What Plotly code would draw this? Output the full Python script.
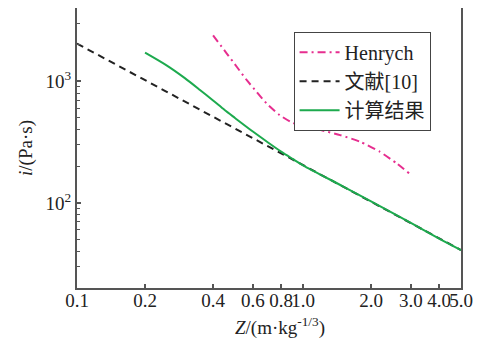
import plotly.graph_objects as go

# Henrych curve
henrych_z = [0.40, 0.46, 0.51, 0.564, 0.624, 0.69, 0.79, 0.90, 1.0, 1.11, 1.2, 1.46, 1.79, 2.19, 2.6, 2.97]
henrych_i = [2380, 1690, 1310, 1020, 817, 656, 526, 455, 430, 409, 397, 361, 318, 263, 211, 173]

# Reference [10]
ref_z = [0.1, 0.2, 0.4, 0.6, 1.0, 2.0, 3.0, 5.0]
ref_i = [2040, 1020, 510, 342, 205, 103, 68.5, 41]

# Calculated result
calc_z = [0.2, 0.25, 0.3, 0.35, 0.4, 0.45, 0.5, 0.6, 0.7, 0.8, 0.9, 1.0, 1.5, 2.0, 3.0, 4.0, 5.0]
calc_i = [1720, 1346, 1062, 849, 695, 580, 499, 386, 314, 264, 230, 204, 137, 103, 68.5, 51, 41]

names = ["Henrych", "文献[10]", "计算结果"]

xtick_vals = [0.1, 0.2, 0.4, 0.6, 0.8, 1.0, 2.0, 3.0, 4.0, 5.0]
xtick_text = ["0.1", "0.2", "0.4", "0.6", "0.8", "1.0", "2.0", "3.0", "4.0", "5.0"]
ytick_vals = [100, 1000]
ytick_text = ["10<sup>2</sup>", "10<sup>3</sup>"]
yminor_vals = [20, 30, 40, 50, 60, 70, 80, 90, 200, 300, 400, 500, 600, 700, 800, 900, 2000, 3000, 4000]

x_title = "<i>Z</i>/(m·kg<sup>-1/3</sup>)"
y_title = "<i>i</i>/(Pa·s)"

FONT = "Liberation Serif, Times New Roman, Noto Sans CJK SC, serif"

fig = go.Figure()
fig.add_trace(go.Scatter(x=henrych_z, y=henrych_i, mode="lines", name=names[0],
                         line=dict(color="#E62E8F", width=2, dash="8px,4px,2px,4px",
                                   shape="spline", smoothing=0.6)))
fig.add_trace(go.Scatter(x=ref_z, y=ref_i, mode="lines", name=names[1],
                         line=dict(color="#222222", width=2, dash="7px,5px")))
fig.add_trace(go.Scatter(x=calc_z, y=calc_i, mode="lines", name=names[2],
                         line=dict(color="#1DAA4E", width=2, shape="spline", smoothing=0.8)))

fig.update_layout(
    width=483, height=331,
    margin=dict(l=69, r=30, t=0, b=51),
    paper_bgcolor="white", plot_bgcolor="white",
    font=dict(family=FONT, size=19, color="#222"),
    showlegend=True,
    legend=dict(x=0.564, y=0.915, xanchor="left", yanchor="top",
                bgcolor="white", bordercolor="#444", borderwidth=1,
                font=dict(family=FONT, size=20, color="#222"),
                itemwidth=40, tracegroupgap=0),
    annotations=[dict(text=x_title, xref="paper", yref="paper", x=0.529, y=-0.136,
                      xanchor="center", yanchor="middle", showarrow=False,
                      font=dict(family=FONT, size=19, color="#222"))],
)
fig.update_xaxes(
    type="log", range=[-1, 0.69897], automargin=False,
    tickmode="array", tickvals=xtick_vals, ticktext=xtick_text, tickangle=0,
    ticks="inside", ticklen=4, tickwidth=1.5, tickcolor="#555",
    ticklabelstandoff=-6,
    showline=True, linecolor="#555", linewidth=2, mirror=True,
    showgrid=False, zeroline=False,
    tickfont=dict(size=19, color="#222"),
)
fig.update_yaxes(
    type="log", range=[1.30103, 3.60206], automargin=False,
    tickmode="array", tickvals=ytick_vals, ticktext=ytick_text,
    ticks="inside", ticklen=4, tickwidth=1.5, tickcolor="#555",
    minor=dict(tickmode="array", tickvals=yminor_vals, ticks="inside", ticklen=3, tickwidth=1, tickcolor="#555"),
    showline=True, linecolor="#555", linewidth=2, mirror=True,
    showgrid=False, zeroline=False,
    tickfont=dict(size=19, color="#222"),
    title=dict(text=y_title, font=dict(size=19), standoff=8),
)

fig.write_html("out.html")
